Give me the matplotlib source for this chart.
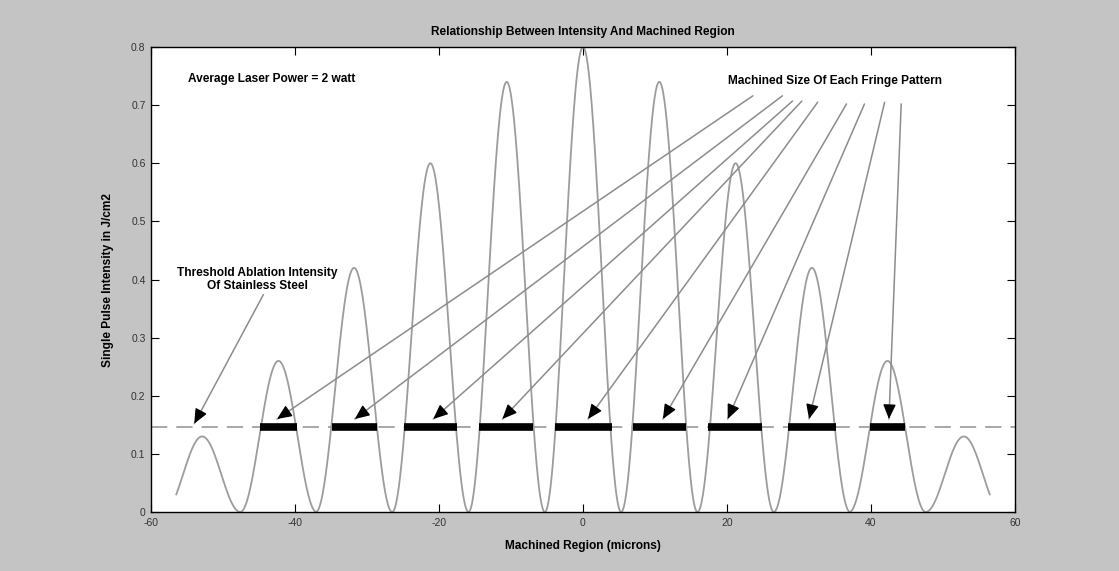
import numpy as np
import matplotlib
matplotlib.use("Agg")
import matplotlib.pyplot as plt

# Fringe pattern: centre of each bright fringe (microns) and its peak intensity (J/cm2)
fringe_centre = [-52.9, -42.3, -31.8, -21.2, -10.6, 0.0, 10.6, 21.2, 31.8, 42.3, 52.9]
fringe_peak = [0.13, 0.26, 0.42, 0.60, 0.74, 0.80, 0.74, 0.60, 0.42, 0.26, 0.13]
fringe_period = 10.6
region_start, region_end = -56.5, 56.5

# Ablation threshold of stainless steel
threshold = 0.147

# Machined extent of each fringe above threshold
bar_left = [-44.9, -34.9, -24.9, -14.4, -3.9, 6.9, 17.4, 28.5, 39.9]
bar_right = [-39.7, -28.6, -17.5, -6.9, 4.0, 14.3, 24.9, 35.1, 44.7]

# Annotation arrows for the machined sizes
arrow_tip_x = [-42.5, -31.7, -20.8, -11.2, 0.7, 11.1, 20.1, 31.4, 42.5]
arrow_tip_y = 0.160
arrow_tail_x = [23.6, 27.7, 29.1, 30.4, 32.6, 36.6, 39.1, 41.9, 44.2]
arrow_tail_y = [0.716, 0.716, 0.707, 0.707, 0.705, 0.702, 0.702, 0.705, 0.702]

x_ticks = [-60, -40, -20, 0, 20, 40, 60]
y_ticks = [0, 0.1, 0.2, 0.3, 0.4, 0.5, 0.6, 0.7, 0.8]

plt.rcParams['font.family'] = ['Liberation Sans', 'DejaVu Sans']

fig = plt.figure(figsize=(11.19, 5.71), dpi=100, facecolor='#c4c4c4')
ax = fig.add_axes([0.135, 0.1033, 0.772, 0.8144])
ax.set_facecolor('white')
ax.set_xlim(-60, 60)
ax.set_ylim(0, 0.8)

# Intensity profile built lobe by lobe
xs_all, ys_all = [], []
for c, p in zip(fringe_centre, fringe_peak):
    lo = max(c - fringe_period / 2, region_start)
    hi = min(c + fringe_period / 2, region_end)
    xs = np.linspace(lo, hi, 200)
    ys = p * np.cos(np.pi * (xs - c) / fringe_period) ** 2
    xs_all.append(xs)
    ys_all.append(ys)
ax.plot(np.concatenate(xs_all), np.concatenate(ys_all), color='#9c9c9c', lw=1.3)

# Threshold line
ax.axhline(threshold, color='#a0a0a0', lw=1.3, dashes=(9, 5))

# Machined regions
ax.hlines([threshold] * len(bar_left), bar_left, bar_right, color='black', lw=5.5,
          capstyle='butt', zorder=4)


def pointer(tail, tip, head_px=11):
    """Grey shaft with a small solid black head."""
    ax.annotate('', xy=tip, xytext=tail,
                arrowprops=dict(arrowstyle='-', color='#8c8c8c', lw=1.1,
                                shrinkA=0, shrinkB=0), zorder=5)
    p_tip = ax.transData.transform(tip)
    p_tail = ax.transData.transform(tail)
    d = p_tail - p_tip
    d = d / np.hypot(*d)
    near = ax.transData.inverted().transform(p_tip + d * head_px)
    ax.annotate('', xy=tip, xytext=tuple(near),
                arrowprops=dict(arrowstyle='-|>,head_length=0.8,head_width=0.35',
                                color='black', lw=1.0, shrinkA=0, shrinkB=0,
                                mutation_scale=11), zorder=6)


for tx, ty, hx in zip(arrow_tail_x, arrow_tail_y, arrow_tip_x):
    pointer((tx, ty), (hx, arrow_tip_y))

pointer((-44.4, 0.374), (-54.0, 0.152))

ax.text(-45.2, 0.40, 'Threshold Ablation Intensity\nOf Stainless Steel', ha='center',
        va='center', fontsize=8.6, fontweight='bold', linespacing=1.2)
ax.text(-54.8, 0.745, 'Average Laser Power = 2 watt', ha='left', va='center',
        fontsize=8.6, fontweight='bold')
ax.text(20.1, 0.741, 'Machined Size Of Each Fringe Pattern', ha='left', va='center',
        fontsize=8.6, fontweight='bold')

ax.set_xticks(x_ticks)
ax.set_yticks(y_ticks)
ax.set_xticklabels([str(v) for v in x_ticks])
ax.set_yticklabels(['0' if v == 0 else f'{v:.1f}' for v in y_ticks])
ax.tick_params(direction='in', length=6, width=0.8, top=True, right=True,
               labelsize=7.5, labelcolor='#333333', pad=4)
for s in ax.spines.values():
    s.set_linewidth(1.0)
    s.set_color('black')

ax.text(0.5, 1.032, 'Relationship Between Intensity And Machined Region',
        transform=ax.transAxes, ha='center', va='center', fontsize=8.6,
        fontweight='bold')
ax.set_xlabel('Machined Region (microns)', fontsize=8.6, fontweight='bold', labelpad=9)
ax.set_ylabel('Single Pulse Intensity in J/cm2', fontsize=8.6, fontweight='bold',
              labelpad=12)

fig.savefig('out.png', dpi=100, facecolor=fig.get_facecolor())
